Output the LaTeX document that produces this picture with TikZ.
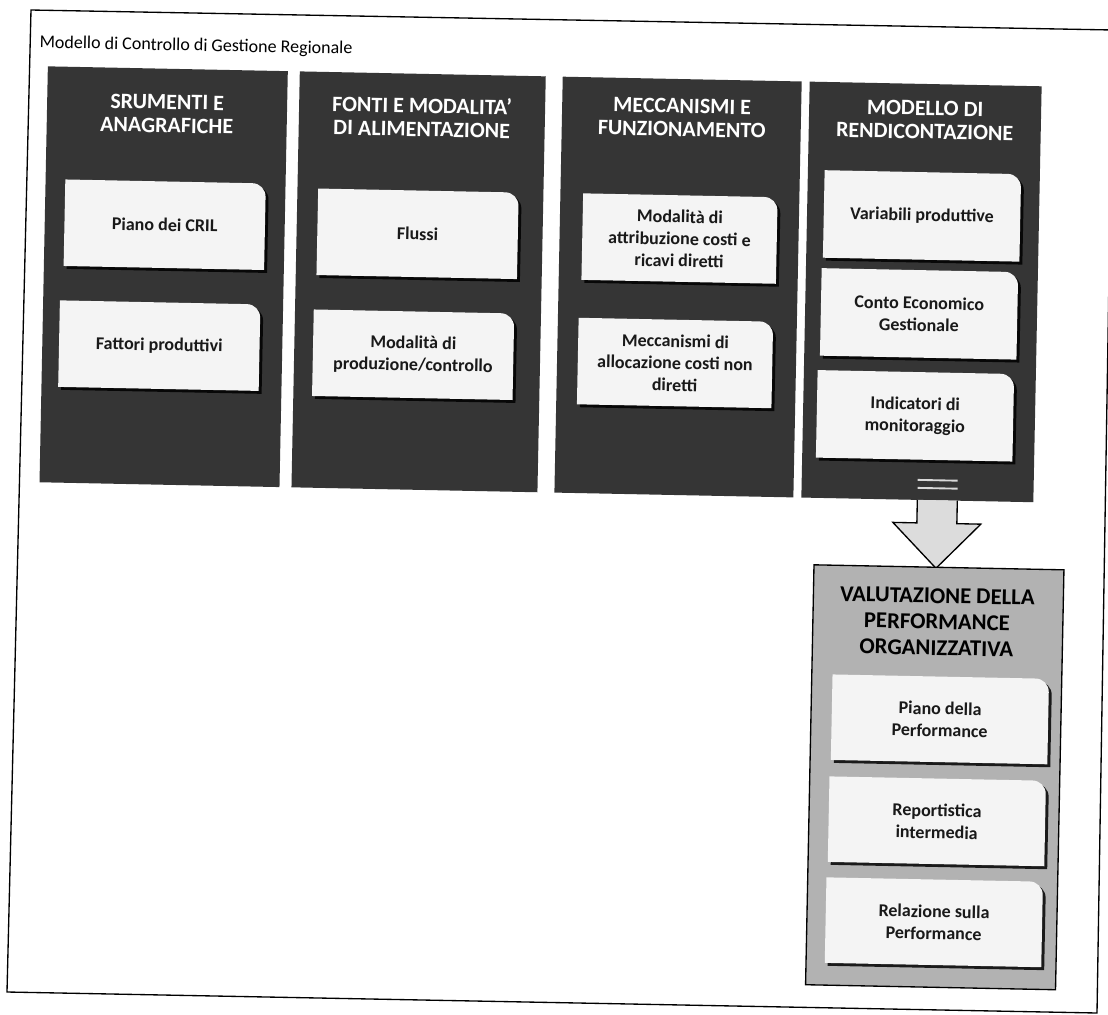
\documentclass[tikz,border=0pt]{standalone}
\usepackage{fontspec}
\setmainfont{Carlito}
\usetikzlibrary{shadows}

\definecolor{colfill}{HTML}{353535}
\definecolor{boxfill}{HTML}{F4F4F4}
\definecolor{evalfill}{HTML}{B2B2B2}
\definecolor{arrowfill}{HTML}{DCDCDC}

% rectangle whose top right corner is rounded
\makeatletter
\pgfdeclareshape{tabbox}{%
  \inheritsavedanchors[from=rectangle]%
  \inheritanchorborder[from=rectangle]%
  \inheritanchor[from=rectangle]{center}%
  \inheritanchor[from=rectangle]{north}%
  \inheritanchor[from=rectangle]{south}%
  \inheritanchor[from=rectangle]{east}%
  \inheritanchor[from=rectangle]{west}%
  \inheritanchor[from=rectangle]{north east}%
  \inheritanchor[from=rectangle]{north west}%
  \inheritanchor[from=rectangle]{south east}%
  \inheritanchor[from=rectangle]{south west}%
  \backgroundpath{%
    \southwest \edef\tb@xa{\the\pgf@x}\edef\tb@ya{\the\pgf@y}%
    \northeast \edef\tb@xb{\the\pgf@x}\edef\tb@yb{\the\pgf@y}%
    \pgfpathmoveto{\pgfqpoint{\tb@xa}{\tb@ya}}%
    \pgfpathlineto{\pgfqpoint{\tb@xa}{\tb@yb}}%
    \pgfpathlineto{\pgfqpoint{\dimexpr\tb@xb-10pt\relax}{\tb@yb}}%
    \pgfpathcurveto{\pgfqpoint{\dimexpr\tb@xb-4.5pt\relax}{\tb@yb}}%
                   {\pgfqpoint{\tb@xb}{\dimexpr\tb@yb-4.5pt\relax}}%
                   {\pgfqpoint{\tb@xb}{\dimexpr\tb@yb-10pt\relax}}%
    \pgfpathlineto{\pgfqpoint{\tb@xb}{\tb@ya}}%
    \pgfpathclose
  }%
}
\makeatother

\tikzset{
  frameline/.style={draw=black, line width=1pt, line join=miter},
  column/.style={rectangle, fill=colfill, inner sep=0pt, minimum height=312pt},
  colhead/.style={text=white, font=\fontsize{16.5}{17.5}\selectfont\bfseries, align=center, inner sep=0pt},
  tab/.style={tabbox, fill=boxfill, inner sep=0pt, align=center,
    font=\fontsize{13.5}{16.5}\selectfont\bfseries, text=black!90,
    drop shadow={shadow xshift=2.2pt, shadow yshift=-2.2pt, fill=black, opacity=0.85}},
  evalbox/.style={rectangle, fill=evalfill, draw=black, line width=1pt, inner sep=0pt,
    minimum width=187.5pt, minimum height=315pt},
  evalhead/.style={text=black, font=\fontsize{17}{19.5}\selectfont\bfseries, align=center, inner sep=0pt},
  blockarrow/.style={fill=arrowfill},
  blockedge/.style={draw=black, line width=1pt, line join=miter},
  stripe/.style={draw=white!85!black, line width=1.4pt}
}

\begin{document}
\begin{tikzpicture}[x=0.75pt, y=-0.75pt]
\useasboundingbox[fill=white] (0,0) rectangle (1108,1015);

% page frame (slightly skewed sheet)
\draw[frameline] (31,10) -- (1113,30) -- (1097,1013) -- (7,992) -- cycle;

\begin{scope}[rotate around={-1.15:(31,10)}, transform shape]
  \node[anchor=west, inner sep=0pt, font=\fontsize{13.5}{16}\selectfont] (title) at (40,43)
    {Modello di Controllo di Gestione Regionale};

  % the four columns
  \node[column, minimum width=180pt]    (c1) at (169,274) {};
  \node[column, minimum width=184.5pt]  (c2) at (424,274) {};
  \node[column, minimum width=179.25pt] (c3) at (683.5,274) {};
  \node[column, minimum width=174pt]    (c4) at (927,274) {};

  \node[colhead] (h1) at (169,111)   {SRUMENTI E\\ANAGRAFICHE};
  \node[colhead] (h2) at (424,109)   {FONTI E MODALITA'\\DI ALIMENTAZIONE};
  \node[colhead] (h3) at (684,104.5) {MECCANISMI E\\FUNZIONAMENTO};
  \node[colhead] (h4) at (927,102)   {MODELLO DI\\RENDICONTAZIONE};

  % items of each column
  \node[tab, minimum width=150pt, minimum height=64.5pt] (b11) at (169,222) {Piano dei CRIL};
  \node[tab, minimum width=150pt, minimum height=64.5pt] (b12) at (166,343) {Fattori produttivi};

  \node[tab, minimum width=150pt, minimum height=64.5pt] (b21) at (422,226) {Flussi};
  \node[tab, minimum width=150pt, minimum height=64.5pt] (b22) at (420,347) {Modalità di\\produzione/controllo};

  \node[tab, minimum width=145.5pt, minimum height=64.5pt] (b31) at (684,225.5) {Modalità di\\attribuzione costi e\\ricavi diretti};
  \node[tab, minimum width=145.5pt, minimum height=64.5pt] (b32) at (682,350) {Meccanismi di\\allocazione costi non\\diretti};

  \node[tab, minimum width=147pt, minimum height=65.25pt] (b41) at (926,198) {Variabili produttive};
  \node[tab, minimum width=147pt, minimum height=65.25pt] (b42) at (925,296) {Conto Economico\\Gestionale};
  \node[tab, minimum width=147pt, minimum height=65.25pt] (b43) at (923,398) {Indicatori di\\monitoraggio};

  % block arrow leaving the last column
  \draw[stripe] (927,462) -- (967,462);
  \draw[stripe] (927,470) -- (967,470);
  \fill[blockarrow] (927,482) -- (927,505) -- (903,505) -- (947,550) -- (991,505) -- (967,505) -- (967,482) -- cycle;
  \draw[blockedge] (927,482) -- (927,505) -- (903,505) -- (947,550) -- (991,505) -- (967,505) -- (967,482);

  % evaluation block
  \node[evalbox] (ev) at (950,759) {};
  \node[evalhead] (evh) at (949,603.5) {VALUTAZIONE DELLA\\PERFORMANCE\\ORGANIZZATIVA};
  \node[tab, minimum width=162pt, minimum height=63.75pt] (e1) at (954,701) {Piano della\\Performance};
  \node[tab, minimum width=162pt, minimum height=63.75pt] (e2) at (953,803) {Reportistica\\intermedia};
  \node[tab, minimum width=162pt, minimum height=63.75pt] (e3) at (952,904) {Relazione sulla\\Performance};
\end{scope}
\end{tikzpicture}
\end{document}
